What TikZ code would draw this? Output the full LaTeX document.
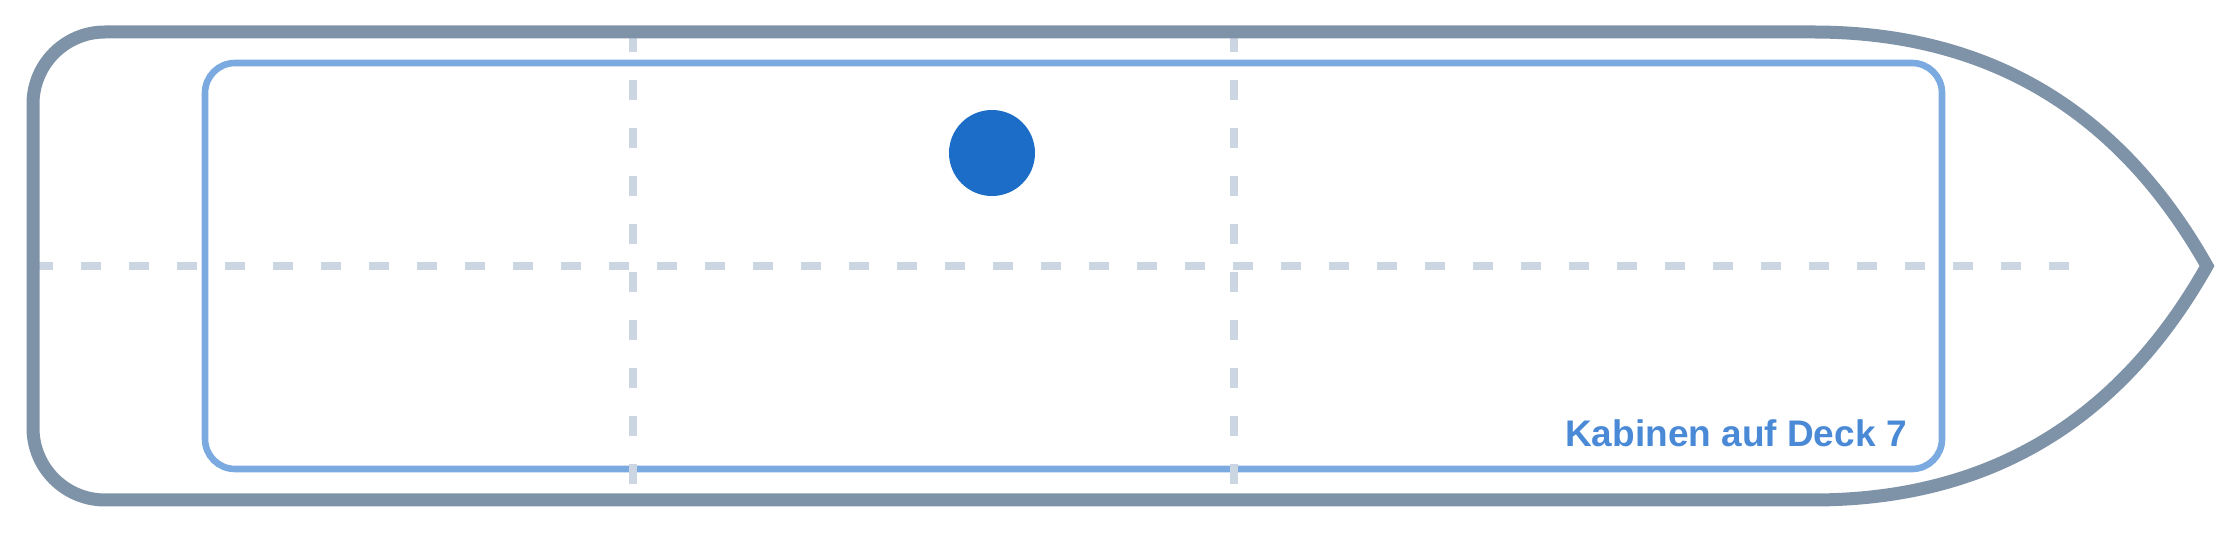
\documentclass[tikz,border=0pt]{standalone}
\usepackage{fontspec}
\setmainfont{Liberation Sans}
\usepackage{tikz}
\usetikzlibrary{calc}
\definecolor{hullgray}{HTML}{7F93A8}
\definecolor{deckblue}{HTML}{7AAADF}
\definecolor{gridgray}{HTML}{CBD6E2}
\definecolor{cabinblue}{HTML}{1C6DC8}
\definecolor{labelblue}{HTML}{4A89D6}
\tikzstyle{hull} = [draw=hullgray, line width=6.5pt]
\tikzstyle{deck} = [draw=deckblue, line width=3.3pt, rounded corners=15pt]
\tikzstyle{grid} = [draw=gridgray, line width=4pt, dash pattern=on 10pt off 14pt]
\tikzstyle{cabin} = [circle, fill=cabinblue, minimum size=43pt, inner sep=0pt]
\tikzstyle{decklabel} = [text=labelblue, font=\bfseries\fontsize{18.5pt}{20pt}\selectfont, anchor=base east, inner sep=0pt]

\begin{document}
\begin{tikzpicture}[x=0.5pt, y=-0.5pt]
			\useasboundingbox (0,0) rectangle (2240,533);
			
			\draw [deck] (205,63) rectangle (1942,469);
			
			\draw [grid] (33,266) -- (2069,266);
			\draw [grid] (633,32) -- (633,500);
			\draw [grid] (1234,32) -- (1234,500);
			
			\coordinate (bow) at (2207,266);
			\draw [hull] (1813,500) .. controls (1988,500) and (2119,422) .. (bow)
				.. controls (2119,110) and (1988,32) .. (1813,32)
				[rounded corners=36pt] -- (33,32) -- (33,500) -- (1813,500);
			
			\node (cab) [cabin] at (992,153) {};
			\node (lbl) [decklabel] at (1907,447) {Kabinen auf Deck 7};
		\end{tikzpicture}
\end{document}
